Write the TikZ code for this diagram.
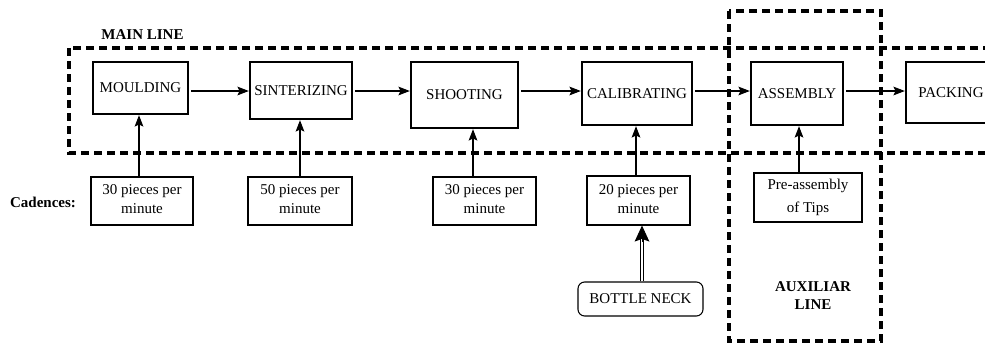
\documentclass[tikz,border=0pt]{standalone}
\usepackage{fontspec}
\setmainfont{Liberation Serif}
\usetikzlibrary{arrows.meta}
\newcommand\pxu{0.75pt}
\begin{document}
\begin{tikzpicture}[x=0.75pt,y=-0.75pt,
  font=\fontsize{11.25}{14}\selectfont,
  stage/.style={draw, line width=0.8pt, inner sep=0pt, align=center},
  rate/.style={stage, text depth=2.5pt},
  feed/.style={line width=0.8pt, shorten <=2pt, shorten >=0.5pt,
    -{Stealth[length=8.5pt,width=6.5pt,inset=1.5pt]}},
  zone/.style={line width=2.8pt, dash pattern=on 6pt off 3.75pt},
  title/.style={font=\fontsize{11.25}{13.5}\selectfont\bfseries, align=center}]
\useasboundingbox (0,0) rectangle (985,343);
\clip (0,0) rectangle (985,343);

% dashed zones: main line and auxiliary line
\draw[zone] (69,48) rectangle (1010,153);
\draw[zone] (729,11) rectangle (881,341);

% process stages
\node[stage, minimum width=95*\pxu, minimum height=52*\pxu] (mould) at (140.5,88) {MOULDING};
\node[stage, minimum width=102*\pxu, minimum height=57*\pxu] (sint) at (301,90.5) {SINTERIZING};
\node[stage, minimum width=107*\pxu, minimum height=66*\pxu] (shoot) at (464.5,95) {SHOOTING};
\node[stage, minimum width=110*\pxu, minimum height=63*\pxu] (calib) at (637,93.5) {CALIBRATING};
\node[stage, minimum width=92*\pxu, minimum height=63*\pxu] (assem) at (797,93.5) {ASSEMBLY};
\node[stage, minimum width=90*\pxu, minimum height=61*\pxu] (pack) at (951,92.5) {PACKING};

% cadence boxes
\node[rate, minimum width=102*\pxu, minimum height=48*\pxu] (c1) at (142,201) {30 pieces per\\minute};
\node[rate, minimum width=104*\pxu, minimum height=48*\pxu] (c2) at (300,201) {50 pieces per\\minute};
\node[rate, minimum width=103*\pxu, minimum height=48*\pxu] (c3) at (484.5,201) {30 pieces per\\minute};
\node[rate, minimum width=103*\pxu, minimum height=49*\pxu] (c4) at (638.5,200.5) {20 pieces per\\minute};
\node[stage, font=\fontsize{11.25}{17}\selectfont, minimum width=108*\pxu, minimum height=49*\pxu] (pre) at (808,197.5) {Pre-assembly\\of Tips};
\node[stage, rounded corners=5pt, minimum width=125*\pxu, minimum height=34*\pxu] (neck) at (640.5,299) {BOTTLE NECK};

% labels
\node[title] (mainlbl) at (142.5,35) {MAIN LINE};
\node[title] (cad) at (43,202) {Cadences:};
\node[title] (auxlbl) at (813,296) {AUXILIAR\\LINE};

% main flow
\coordinate (row) at (0,91);
\draw[feed] (mould.east |- row) -- (sint.west |- row);
\draw[feed] (sint.east |- row) -- (shoot.west |- row);
\draw[feed] (shoot.east |- row) -- (calib.west |- row);
\draw[feed] (calib.east |- row) -- (assem.west |- row);
\draw[feed] (assem.east |- row) -- (pack.west |- row);

% cadence feeds
\coordinate (v1) at (139,0);
\coordinate (v2) at (300,0);
\coordinate (v3) at (473,0);
\coordinate (v4) at (636,0);
\coordinate (v5) at (799,0);
\draw[feed, shorten <=0pt] (c1.north -| v1) -- (mould.south -| v1);
\draw[feed, shorten <=0pt] (c2.north -| v2) -- (sint.south -| v2);
\draw[feed, shorten <=0pt] (c3.north -| v3) -- (shoot.south -| v3);
\draw[feed, shorten <=0pt] (c4.north -| v4) -- (calib.south -| v4);
\draw[feed, shorten <=0pt] (pre.north -| v5) -- (assem.south -| v5);

% bottleneck marker: double shaft with a large head
\coordinate (v6) at (642,0);
\coordinate (tipbase) at (642,242);
\draw[line width=0.7pt, double, double distance=1.6pt, shorten >=10pt] (neck.north -| v6) -- (c4.south -| v6);
\draw[line width=0.7pt, -{Stealth[length=12pt,width=11pt,inset=2pt]}] (tipbase) -- (c4.south -| v6);
\end{tikzpicture}
\end{document}
